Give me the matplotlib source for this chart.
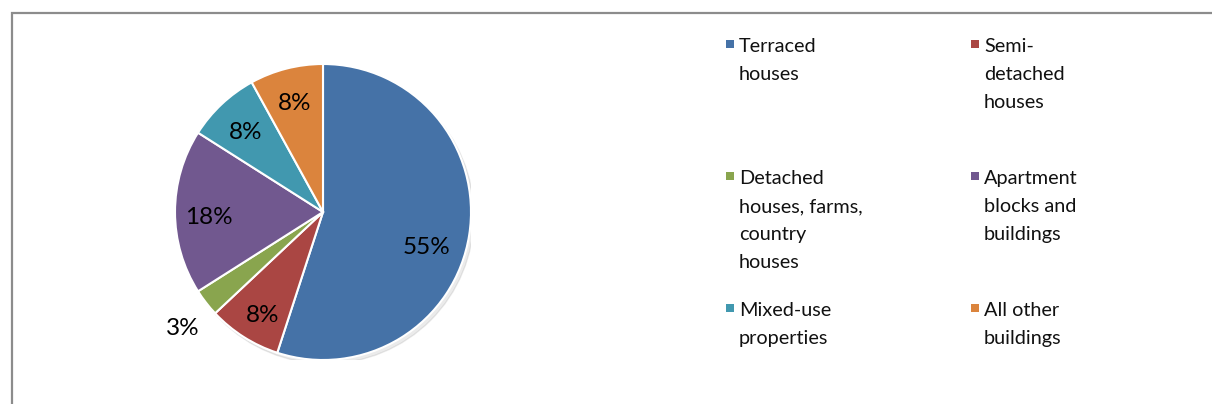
import numpy as np
import matplotlib
matplotlib.use("Agg")
import matplotlib.pyplot as plt
from matplotlib.patches import Rectangle

plt.rcParams['font.family'] = ['Lato', 'DejaVu Sans']

# Building types and their share of the stock (%)
categories = ['Terraced houses', 'Semi-detached houses',
              'Detached houses, farms, country houses',
              'Apartment blocks and buildings', 'Mixed-use properties',
              'All other buildings']
shares = [55, 8, 3, 18, 8, 8]
legend_labels = ['Terraced\nhouses', 'Semi-\ndetached\nhouses',
                 'Detached\nhouses, farms,\ncountry\nhouses',
                 'Apartment\nblocks and\nbuildings', 'Mixed-use\nproperties',
                 'All other\nbuildings']
colors = ['#4572A7', '#AA4643', '#89A54E', '#71588F', '#4198AF', '#DB843D']

W, H = 1212, 404
fig = plt.figure(figsize=(W / 100, H / 100), dpi=100)

# chart frame (runs off the right and bottom edge)
fig.patches.append(Rectangle((12 / W, -0.05), 1.1, (H - 13) / H + 0.05,
                             transform=fig.transFigure, fill=False,
                             edgecolor='#8c8c8c', linewidth=1.6))

cx, cy, r = 323, 212, 148
ax = fig.add_axes([(cx - r) / W, (H - cy - r) / H, 2 * r / W, 2 * r / H])

# soft shadow under the pie
ax.add_patch(plt.Circle((0.02, -0.025), 1.0, color='black', alpha=0.08, zorder=0))

wedges, _ = ax.pie(shares, colors=colors, startangle=90, counterclock=False,
                   radius=1.0,
                   wedgeprops=dict(edgecolor='white', linewidth=1.5))

# percentage labels
label_r = [0.74, 0.81, 1.23, 0.77, 0.75, 0.76]
label_shift = [-10, 2, 2, 3, 1, 0]
for w, val, lr, sh in zip(wedges, shares, label_r, label_shift):
    mid = np.deg2rad((w.theta1 + w.theta2) / 2 + sh)
    ax.text(lr * np.cos(mid), lr * np.sin(mid), f'{val}%',
            ha='center', va='center', fontsize=17.5, color='black')

ax.set_xlim(-1, 1)
ax.set_ylim(-1, 1)
ax.set_aspect('equal')
ax.axis('off')

# legend laid out in two columns, row by row
col_x = [726, 971]
row_y = [45, 177, 309]
for i, (lab, c) in enumerate(zip(legend_labels, colors)):
    x = col_x[i % 2]
    y = row_y[i // 2]
    fig.patches.append(Rectangle((x / W, 1 - (y + 3) / H), 8 / W, 8 / H,
                                 transform=fig.transFigure, facecolor=c,
                                 edgecolor='none'))
    fig.text((x + 13) / W, 1 - (y - 7) / H, lab, ha='left', va='top',
             fontsize=14.3, linespacing=1.78, color='#111111')

fig.savefig('out.png', dpi=100)
